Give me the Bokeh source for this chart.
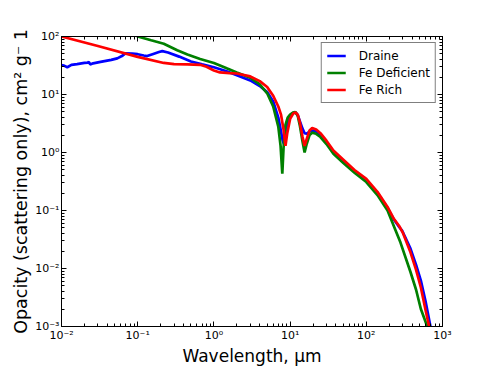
from bokeh.plotting import figure
from bokeh.models import (Range1d, LogAxis, FixedTicker, CustomJSTickFormatter,
                          Legend, LegendItem, ColumnDataSource)
from bokeh.embed import file_html
from bokeh.resources import INLINE

# ---------------- data (wavelength in micron, opacity cm^2/g) ----------------
draine_wl = [0.010, 0.0108, 0.0119, 0.0135, 0.016, 0.020, 0.0222, 0.0228, 0.0238,
             0.026, 0.0325, 0.045, 0.054, 0.062, 0.069, 0.085, 0.10, 0.12, 0.133,
             0.16, 0.19, 0.21, 0.25, 0.35, 0.50, 0.70, 1.0, 1.5, 2.0, 3.0, 4.0,
             5.0, 6.0, 7.0, 7.6, 8.0, 8.3, 8.7, 9.2, 10.0, 11.0, 11.8, 12.6, 13.5,
             14.5, 15.5, 16.5, 18.0, 20.0, 22.0, 25.0, 30.0, 37.0, 50.0, 70.0,
             100.0, 140.0, 190.0, 230.0, 270.0, 295.0, 320.0, 380.0, 450.0, 520.0,
             600.0, 700.0, 760.0]
draine_op = [32, 31.5, 29.5, 32.5, 33.5, 35, 35.5, 36.5, 33,
             34.5, 36.5, 39.5, 42, 46, 51, 50.5, 49.5, 47, 46,
             50, 54, 56, 53, 45, 37, 33, 29.5, 25, 21.5, 17.5, 14,
             11, 7.6, 4.0, 2.3, 1.6, 1.4, 2.0, 3.2, 4.3, 4.8, 4.9, 4.4, 3.4,
             2.6, 2.15, 2.1, 2.3, 2.4, 2.3, 2.0, 1.5, 1.0, 0.7, 0.48,
             0.33, 0.2, 0.11, 0.07, 0.052, 0.045, 0.036, 0.022, 0.0115, 0.0062,
             0.0027, 0.00095, 0.0006]

fedef_wl = [0.08, 0.10, 0.15, 0.22, 0.33, 0.45, 0.66, 1.0, 1.5, 2.0, 3.0, 4.0,
            5.0, 6.0, 7.0, 7.5, 7.9, 8.2, 8.7, 9.3, 10.0, 11.0, 11.7, 12.6, 13.5,
            14.5, 15.5, 16.5, 18.0, 19.5, 22.0, 25.0, 30.0, 37.0, 50.0, 70.0,
            100.0, 140.0, 190.0, 241.0, 281.0, 380.0, 450.0, 520.0, 640.0, 700.0]
fedef_op = [125, 100, 86, 75, 58, 49, 41, 35, 28, 24, 19.5, 15,
            10.5, 6.2, 2.8, 1.3, 0.43, 1.2, 3.0, 4.0, 4.5, 4.9, 5.0, 4.3, 2.8,
            1.6, 1.0, 1.4, 2.0, 2.2, 2.1, 1.85, 1.4, 0.95, 0.66, 0.45,
            0.31, 0.185, 0.1, 0.046, 0.028, 0.0087, 0.0043, 0.002, 0.00095, 0.0006]

ferich_wl = [0.010, 0.03, 0.10, 0.22, 0.30, 0.45, 0.66, 0.80, 1.0, 1.2, 1.6, 2.0,
             3.0, 4.0, 5.0, 6.0, 7.0, 7.6, 8.2, 8.7, 9.2, 10.0, 11.0, 11.8, 12.6,
             13.5, 14.5, 15.5, 16.5, 18.0, 19.5, 22.0, 25.0, 30.0, 37.0, 50.0,
             70.0, 100.0, 140.0, 190.0, 230.0, 270.0, 300.0, 380.0, 450.0, 520.0,
             600.0, 680.0, 740.0]
ferich_op = [100, 68.5, 44.5, 35, 33.5, 33, 32.5, 30, 26, 24, 23.3, 23,
             20.5, 17, 13.5, 9.5, 6.2, 4.5, 2.5, 1.3, 2.2, 3.8, 4.7, 4.9, 4.5,
             3.2, 1.9, 1.3, 1.7, 2.4, 2.65, 2.5, 2.15, 1.6, 1.08, 0.75,
             0.5, 0.35, 0.21, 0.115, 0.072, 0.054, 0.042, 0.019, 0.0095, 0.0047,
             0.0019, 0.0009, 0.0005]

series_names = ["Draine", "Fe Deficient", "Fe Rich"]
series_colors = ["#0000ff", "#008000", "#ff0000"]

x_ticks = [1e-2, 1e-1, 1e0, 1e1, 1e2, 1e3]
y_ticks = [1e-3, 1e-2, 1e-1, 1e0, 1e1, 1e2]

# ---------------- figure ----------------
FONT = "DejaVu Sans"
p = figure(width=491, height=368, x_axis_type="log", y_axis_type="log",
           x_range=Range1d(1e-2, 1e3), y_range=Range1d(1e-3, 1e2),
           output_backend="svg", toolbar_location=None,
           min_border_left=61, min_border_right=49, min_border_top=36,
           min_border_bottom=38)
p.background_fill_color = "white"
p.border_fill_color = "white"
p.outline_line_color = "black"
p.outline_line_width = 1
p.xgrid.visible = False
p.ygrid.visible = False


def minors(lo, hi):
    out = []
    for e in range(lo, hi):
        for m in range(2, 10):
            out.append(m * 10.0 ** e)
    return out


fmt_code = """
const e = Math.round(Math.log10(tick));
const sup = {'-':'\u207b','0':'\u2070','1':'\u00b9','2':'\u00b2','3':'\u00b3','4':'\u2074','5':'\u2075','6':'\u2076','7':'\u2077','8':'\u2078','9':'\u2079'};
return '10' + String(e).split('').map(c => sup[c]).join('');
"""

xt = FixedTicker(ticks=x_ticks, minor_ticks=minors(-2, 3))
yt = FixedTicker(ticks=y_ticks, minor_ticks=minors(-3, 2))


def style_axis(ax, show_labels=True):
    ax.major_tick_in = 5
    ax.major_tick_out = 0
    ax.minor_tick_in = 3
    ax.minor_tick_out = 0
    ax.axis_line_color = "black"
    ax.major_tick_line_color = "black"
    ax.minor_tick_line_color = "black"
    ax.major_label_text_font = FONT
    ax.major_label_text_font_size = "11px"
    ax.major_label_text_color = "black"
    ax.major_label_text_alpha = 1.0 if show_labels else 0.0
    ax.major_label_standoff = 2
    ax.axis_label_text_font = FONT
    ax.axis_label_text_font_size = "17px"
    ax.axis_label_text_font_style = "normal"
    ax.axis_label_text_color = "black"
    ax.axis_label_standoff = 1


p.xaxis.ticker = xt
p.yaxis.ticker = yt
p.xaxis.formatter = CustomJSTickFormatter(code=fmt_code)
p.yaxis.formatter = CustomJSTickFormatter(code=fmt_code)
p.xaxis.axis_label = "Wavelength, \u03bcm"
p.yaxis.axis_label = "Opacity (scattering only), cm\u00b2 g\u207b 1"
style_axis(p.xaxis[0])
style_axis(p.yaxis[0])
p.yaxis.axis_label_text_font_size = "17.5px"

top_ax = LogAxis(ticker=xt, formatter=CustomJSTickFormatter(code=fmt_code))
right_ax = LogAxis(ticker=yt, formatter=CustomJSTickFormatter(code=fmt_code))
style_axis(top_ax, False)
style_axis(right_ax, False)
top_ax.major_label_standoff = 0
right_ax.major_label_standoff = 0
p.add_layout(top_ax, "above")
p.add_layout(right_ax, "right")

# ---------------- lines ----------------
items = []
for wl, op, name, col in zip([draine_wl, fedef_wl, ferich_wl],
                             [draine_op, fedef_op, ferich_op],
                             series_names, series_colors):
    src = ColumnDataSource(dict(x=wl, y=op))
    r = p.line("x", "y", source=src, line_color=col, line_width=2.7)
    items.append(LegendItem(label=name, renderers=[r]))

legend = Legend(items=items, location="top_right")
legend.margin = 6
legend.padding = 5
legend.spacing = 2
legend.glyph_width = 19
legend.glyph_height = 15
legend.label_height = 15
legend.label_standoff = 13
legend.label_text_font = FONT
legend.label_text_font_size = "12px"
legend.label_text_color = "black"
legend.border_line_color = "black"
legend.border_line_width = 1
legend.background_fill_color = "white"
legend.background_fill_alpha = 1.0
p.add_layout(legend, "center")

open("out.html", "w").write(file_html(p, INLINE))
